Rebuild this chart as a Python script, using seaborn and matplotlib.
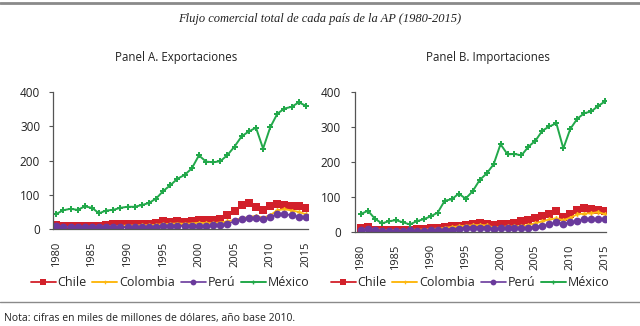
import matplotlib
matplotlib.use("Agg")
import matplotlib.pyplot as plt
from matplotlib.lines import Line2D
import seaborn as sns
import pandas as pd

years = list(range(1980, 2016))
countries = ["Chile", "Colombia", "Perú", "México"]

# Exportaciones (miles de millones de dólares, base 2010)
exp_chile = [12, 10, 10, 8, 10, 10, 10, 11, 14, 15, 14, 15, 16, 15, 17, 22, 21, 22, 21, 22,
             26, 26, 25, 30, 42, 52, 70, 75, 65, 57, 68, 72, 69, 68, 68, 62]
exp_colombia = [7, 6, 6, 6, 6, 6, 7, 7, 8, 9, 10, 10, 11, 11, 12, 14, 15, 16, 15, 16,
                18, 17, 17, 19, 22, 27, 31, 35, 38, 33, 40, 55, 58, 54, 50, 43]
exp_peru = [8, 6, 6, 5, 6, 6, 5, 5, 5, 5, 6, 6, 6, 6, 7, 8, 8, 9, 9, 9,
            10, 10, 11, 12, 16, 22, 28, 32, 32, 28, 35, 43, 44, 40, 36, 34]
exp_mexico = [44, 55, 59, 56, 66, 62, 46, 54, 56, 62, 65, 65, 70, 76, 89, 111, 128, 147, 158, 177,
              215, 197, 195, 198, 216, 241, 271, 285, 296, 235, 297, 337, 352, 357, 370, 360]

# Importaciones (miles de millones de dólares, base 2010)
imp_chile = [10, 13, 6, 4, 5, 5, 5, 6, 7, 9, 10, 10, 13, 15, 15, 20, 22, 24, 23, 18,
             21, 22, 26, 30, 34, 40, 45, 50, 60, 43, 52, 63, 68, 66, 62, 58]
imp_colombia = [7, 8, 7, 5, 5, 5, 4, 5, 6, 6, 7, 9, 11, 13, 15, 17, 18, 19, 18, 12,
                13, 15, 15, 16, 19, 24, 30, 35, 38, 33, 40, 50, 52, 53, 56, 50]
imp_peru = [5, 7, 6, 3, 3, 3, 3, 4, 3, 3, 4, 4, 5, 6, 8, 10, 10, 11, 10, 9,
            10, 10, 10, 11, 12, 14, 17, 21, 27, 22, 27, 32, 36, 37, 36, 36]
imp_mexico = [51, 60, 37, 24, 30, 33, 27, 21, 30, 36, 44, 55, 89, 93, 109, 95, 116, 148, 167, 193,
              251, 222, 223, 219, 244, 261, 290, 302, 311, 239, 295, 324, 340, 345, 361, 374]

title = "Flujo comercial total de cada país de la AP (1980-2015)"
panel_titles = ["Panel A. Exportaciones", "Panel B. Importaciones"]
note = "Nota: cifras en miles de millones de dólares, año base 2010."
year_ticks = [1980, 1985, 1990, 1995, 2000, 2005, 2010, 2015]
value_ticks = [0, 100, 200, 300, 400]

colors = {"Chile": "#D2202A", "Colombia": "#FDB913", "Perú": "#6A3A9C", "México": "#22A84A"}
markers = {"Chile": "s", "Colombia": "P", "Perú": "o", "México": "P"}
msizes = {"Chile": 5.6, "Colombia": 3.5, "Perú": 5.6, "México": 3.8}
lwidths = {"Chile": 1.3, "Colombia": 1.4, "Perú": 1.2, "México": 1.4}


def long_frame(series):
    rows = []
    for name, vals in zip(countries, series):
        for y, v in zip(years, vals):
            rows.append({"año": y, "valor": v, "país": name})
    return pd.DataFrame(rows)


exp_df = long_frame([exp_chile, exp_colombia, exp_peru, exp_mexico])
imp_df = long_frame([imp_chile, imp_colombia, imp_peru, imp_mexico])

sns.set_theme(style="white")
plt.rcParams["font.family"] = ["Open Sans", "DejaVu Sans"]

fig = plt.figure(figsize=(6.4, 3.26), dpi=100)
ax_a = fig.add_axes([0.0823, 0.2975, 0.399, 0.420])
ax_b = fig.add_axes([0.5547, 0.2893, 0.392, 0.4276])

for ax, df, xlim, ypad in [
    (ax_a, exp_df, (1979.5, 2015.3), 6),
    (ax_b, imp_df, (1979.14, 2015.1), 7),
]:
    for name in countries:
        sub = df[df["país"] == name]
        sns.lineplot(data=sub, x="año", y="valor", ax=ax, color=colors[name],
                     marker=markers[name], markersize=msizes[name], linewidth=lwidths[name],
                     markeredgewidth=0, label=name, legend=False)
    ax.set_xlim(*xlim)
    ax.set_ylim(0, 400)
    ax.set_xticks(year_ticks)
    ax.set_xticklabels([str(t) for t in year_ticks], rotation=90, fontsize=8, color="#222222")
    ax.set_yticks(value_ticks)
    ax.set_yticklabels([str(t) for t in value_ticks], fontsize=8.5, color="#222222")
    ax.set_xlabel("")
    ax.set_ylabel("")
    for side in ["top", "right"]:
        ax.spines[side].set_visible(False)
    for side in ["left", "bottom"]:
        ax.spines[side].set_color("#555555")
        ax.spines[side].set_linewidth(0.9)
    ax.tick_params(axis="y", left=True, length=3, width=0.8, color="#555555", pad=ypad)
    ax.tick_params(axis="x", bottom=False, pad=3)
    ax.set_facecolor("none")

fig.text(0.5, 1 - 19 / 326, title, ha="center", va="center", fontsize=9,
         family="Liberation Serif", style="italic", color="#222222")
fig.text(176 / 640, 1 - 57 / 326, panel_titles[0], ha="center", va="center", fontsize=8.3, color="#222222")
fig.text(488 / 640, 1 - 57 / 326, panel_titles[1], ha="center", va="center", fontsize=8.3, color="#222222")
fig.text(4 / 640, 1 - 319 / 326, note, ha="left", va="center", fontsize=7.5, color="#222222")

for ax, cx in [(ax_a, 170 / 640), (ax_b, 470 / 640)]:
    handles, labels = ax.get_legend_handles_labels()
    fig.legend(handles, labels, loc="center", bbox_to_anchor=(cx, 1 - 283 / 326), ncol=4,
               frameon=False, fontsize=9, handlelength=2.0, handletextpad=0.15,
               columnspacing=0.45, borderpad=0, markerscale=0.75)

fig.add_artist(Line2D([0, 1], [1 - 3 / 326, 1 - 3 / 326], transform=fig.transFigure,
                      color="#8a8a8a", linewidth=2))
fig.add_artist(Line2D([0, 1], [1 - 302 / 326, 1 - 302 / 326], transform=fig.transFigure,
                      color="#8a8a8a", linewidth=1))

fig.savefig("out.png", dpi=100, facecolor="white")
